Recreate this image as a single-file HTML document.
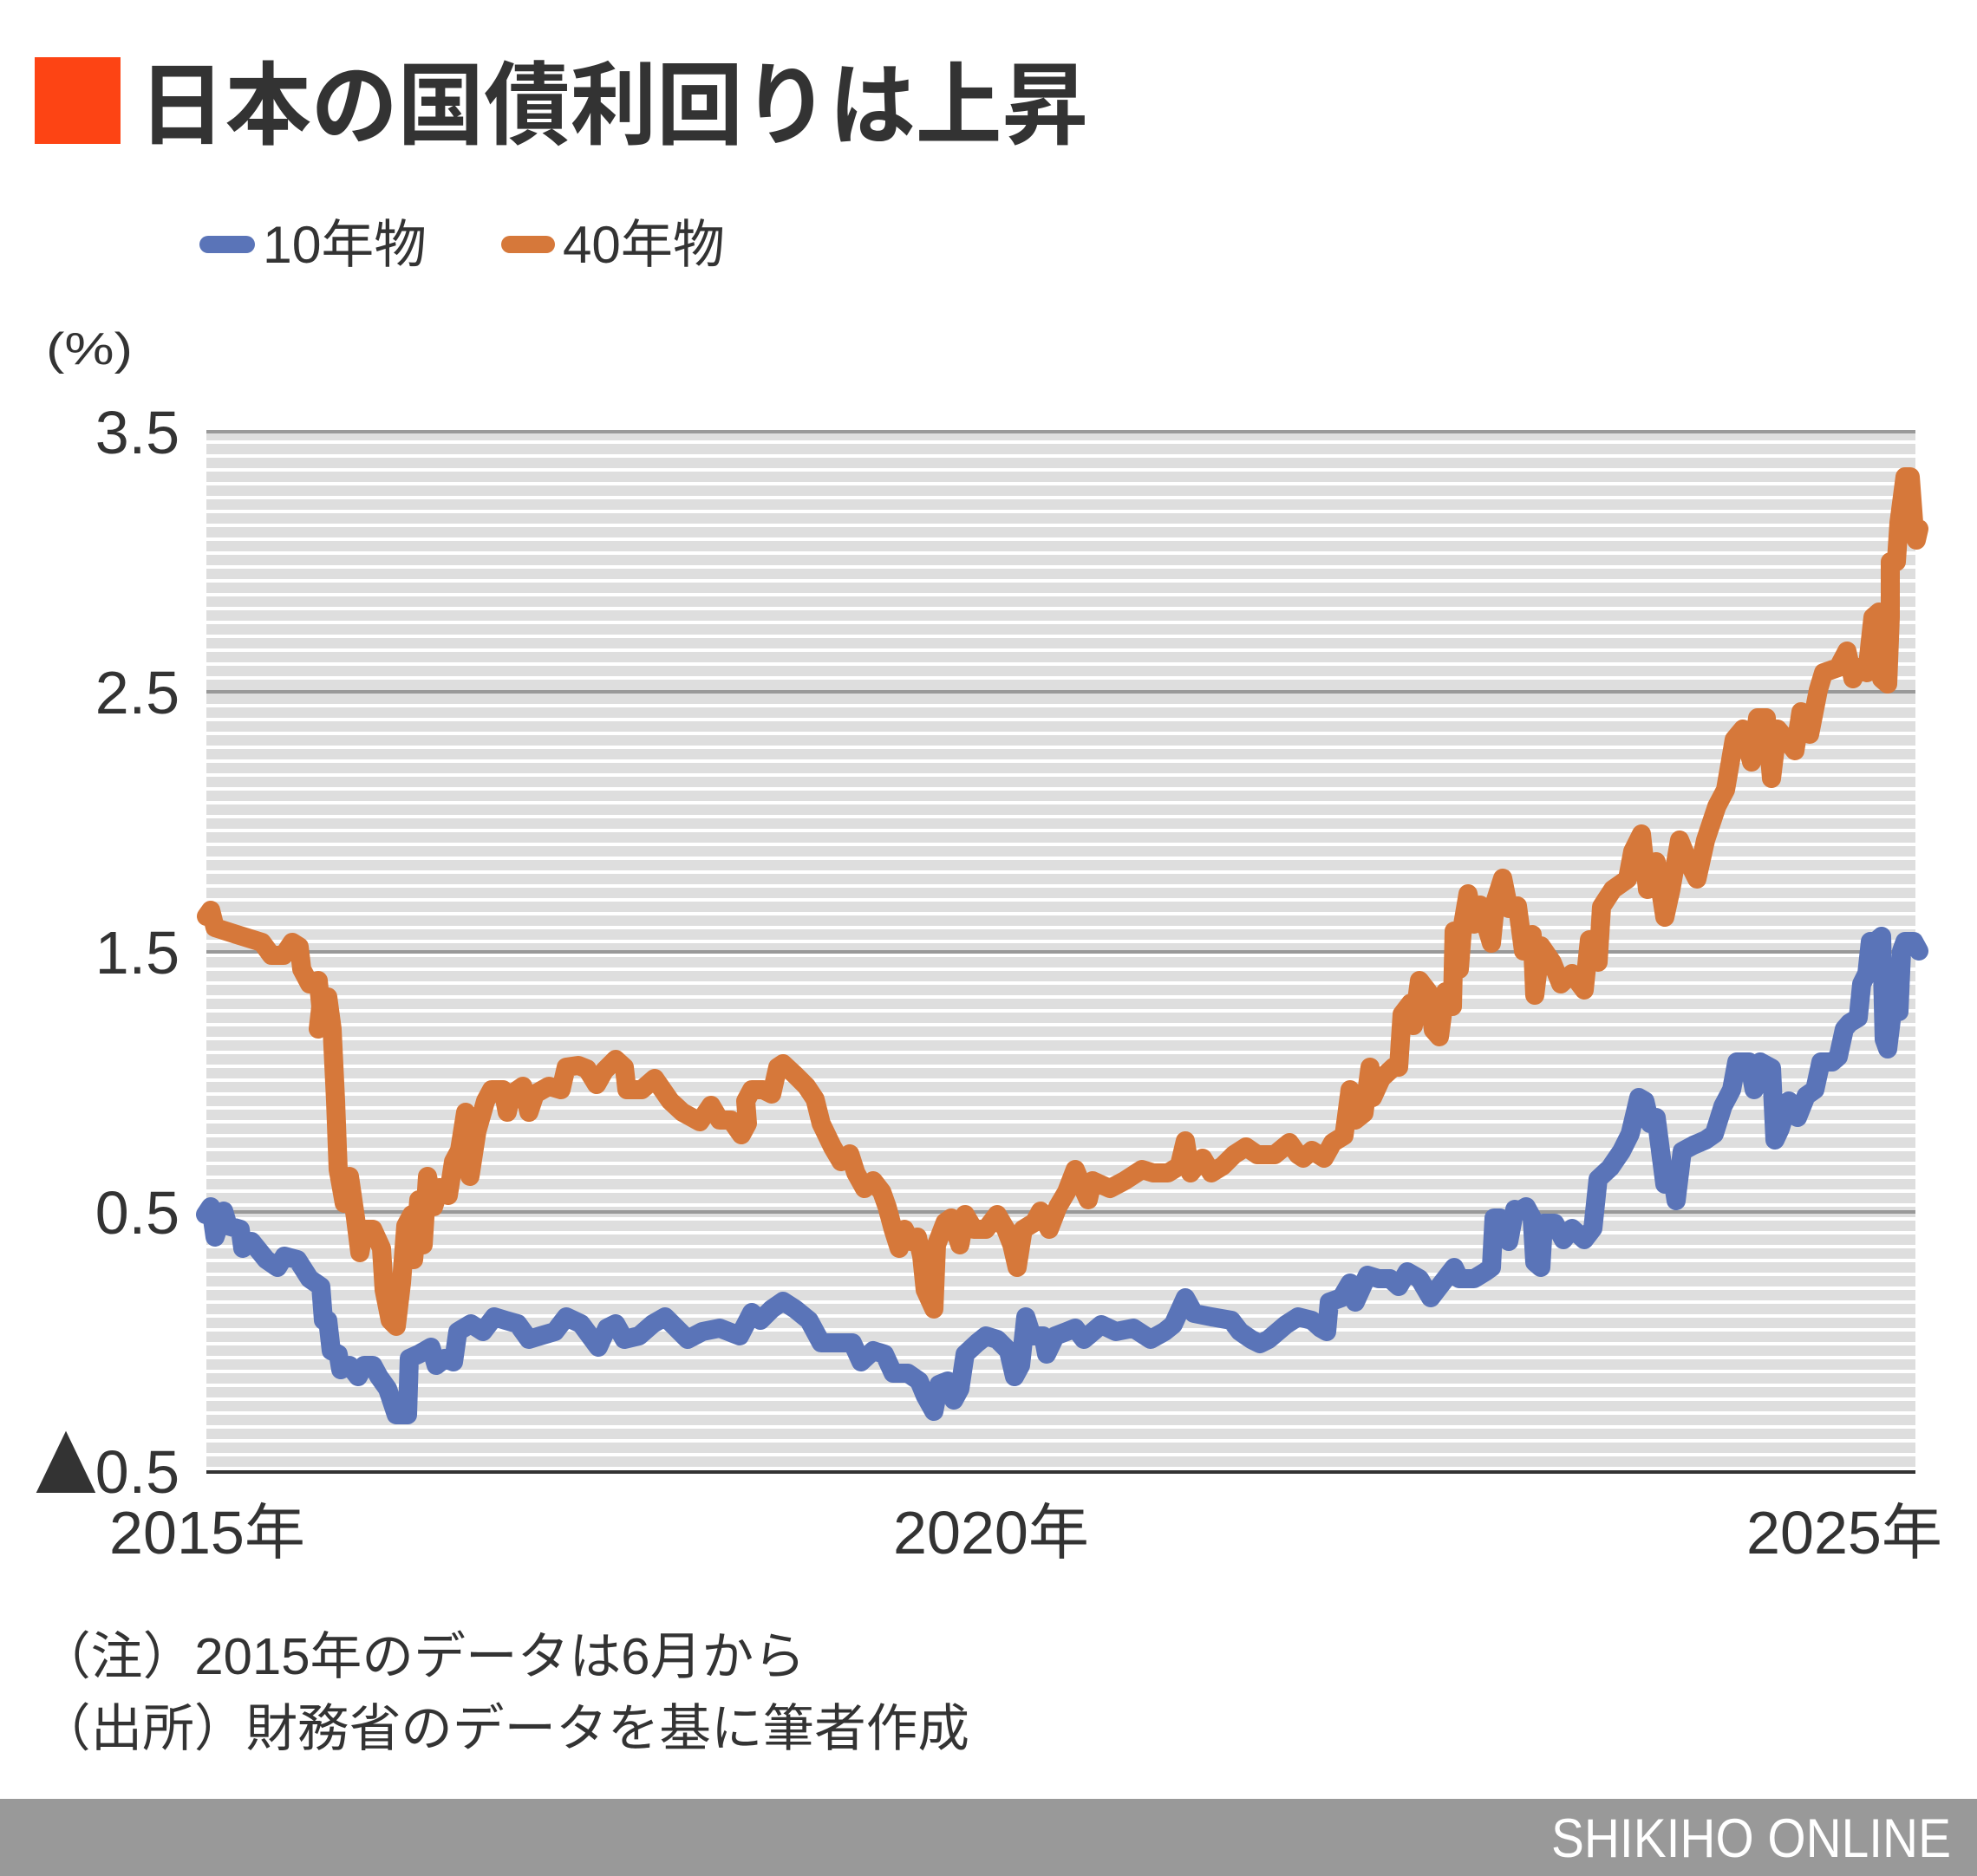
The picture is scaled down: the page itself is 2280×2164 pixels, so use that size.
<!DOCTYPE html>
<html>
<head>
<meta charset="utf-8">
<style>
html,body{margin:0;padding:0;background:#fff;}
svg{display:block;}
text{font-family:"Liberation Sans","Noto Sans CJK JP",sans-serif;}
</style>
</head>
<body>
<svg width="2280" height="2164" viewBox="0 0 2280 2164" xmlns="http://www.w3.org/2000/svg">
<defs>
<pattern id="stripes" x="0" y="508" width="20" height="16" patternUnits="userSpaceOnUse">
<rect x="0" y="0" width="20" height="4" fill="#ffffff"/>
<rect x="0" y="4" width="20" height="12" fill="#dedede"/>
</pattern>
</defs>
<rect x="0" y="0" width="2280" height="2164" fill="#ffffff"/>

<!-- Title -->
<rect x="40" y="66" width="99" height="100" fill="#fd4414"/>
<text x="160" y="158" font-size="104" font-weight="700" fill="#333333" textLength="1095" lengthAdjust="spacingAndGlyphs">日本の国債利回りは上昇</text>

<!-- Legend -->
<rect x="230" y="272" width="64" height="20" rx="10" ry="10" fill="#5a74b8"/>
<text x="303" y="303" font-size="60" fill="#333333" textLength="189" lengthAdjust="spacingAndGlyphs">10年物</text>
<rect x="578" y="272" width="62" height="20" rx="10" ry="10" fill="#d6783a"/>
<text x="649" y="303" font-size="60" fill="#333333" textLength="187" lengthAdjust="spacingAndGlyphs">40年物</text>

<!-- unit -->
<text x="53" y="420" font-size="52" fill="#333333" textLength="100" lengthAdjust="spacingAndGlyphs">(%)</text>

<!-- plot background -->
<rect x="238" y="498" width="1971" height="1198" fill="url(#stripes)"/>
<rect x="238" y="498" width="1971" height="10" fill="#dedede"/>

<!-- major gridlines -->
<g stroke="#999999" stroke-width="4">
<line x1="238" y1="498" x2="2209" y2="498"/>
<line x1="238" y1="798" x2="2209" y2="798"/>
<line x1="238" y1="1098" x2="2209" y2="1098"/>
<line x1="238" y1="1398" x2="2209" y2="1398"/>
</g>
<line x1="238" y1="1698" x2="2209" y2="1698" stroke="#333333" stroke-width="4"/>

<!-- y labels -->
<g font-size="70" fill="#333333" text-anchor="end">
<text x="207" y="523">3.5</text>
<text x="207" y="823">2.5</text>
<text x="207" y="1123">1.5</text>
<text x="207" y="1423">0.5</text>
<text x="207" y="1722">0.5</text>
</g>
<text x="18" y="1722" font-size="122" fill="#333333" textLength="116" lengthAdjust="spacingAndGlyphs">▲</text>

<!-- x labels -->
<g font-size="70" fill="#333333">
<text x="126" y="1792" textLength="226" lengthAdjust="spacingAndGlyphs">2015年</text>
<text x="1030" y="1792" textLength="226" lengthAdjust="spacingAndGlyphs">2020年</text>
<text x="2014" y="1792" textLength="226" lengthAdjust="spacingAndGlyphs">2025年</text>
</g>

<!-- series -->
<polyline fill="none" stroke="#d6783a" stroke-width="22" stroke-linejoin="round" stroke-linecap="round" points="238,1057 243,1050 248,1070 273,1078 302,1087 313,1102 327,1102 337,1087 345,1092 348,1118 357,1135 367,1131 370,1161 367,1187 378,1150 383,1187 387,1270 390,1349 397,1388 403,1357 410,1405 415,1445 420,1418 430,1418 440,1440 443,1488 450,1523 457,1530 463,1480 468,1414 475,1401 477,1453 483,1384 488,1436 493,1357 500,1392 507,1370 517,1379 523,1340 530,1327 537,1283 542,1357 550,1305 560,1270 567,1257 580,1257 585,1283 590,1262 603,1253 610,1283 617,1262 633,1253 647,1257 653,1231 667,1229 677,1233 688,1251 697,1235 710,1222 720,1231 723,1257 740,1257 755,1244 773,1270 787,1283 807,1294 820,1275 830,1292 843,1292 855,1309 862,1296 860,1270 867,1257 880,1257 890,1262 897,1231 903,1227 917,1240 930,1253 940,1268 947,1296 960,1323 970,1340 980,1331 987,1353 997,1371 1007,1362 1017,1375 1023,1392 1030,1418 1037,1440 1043,1418 1050,1432 1058,1427 1063,1449 1067,1488 1077,1510 1080,1436 1090,1410 1097,1405 1107,1436 1113,1401 1123,1418 1137,1418 1150,1401 1160,1418 1167,1436 1173,1462 1180,1418 1193,1410 1200,1397 1210,1418 1220,1392 1230,1375 1240,1349 1247,1366 1255,1384 1260,1362 1280,1371 1297,1362 1317,1349 1330,1353 1347,1353 1360,1345 1367,1316 1373,1353 1387,1336 1397,1353 1410,1345 1423,1332 1437,1323 1450,1332 1470,1332 1487,1318 1497,1332 1503,1336 1513,1327 1527,1336 1537,1318 1550,1310 1557,1257 1563,1292 1573,1284 1580,1231 1583,1266 1593,1244 1607,1231 1613,1231 1617,1170 1627,1157 1630,1183 1637,1131 1647,1144 1653,1188 1660,1196 1667,1144 1675,1161 1677,1074 1683,1118 1687,1066 1693,1031 1700,1066 1707,1044 1720,1088 1725,1038 1733,1013 1740,1048 1750,1045 1757,1097 1767,1078 1770,1148 1777,1091 1790,1110 1800,1135 1813,1123 1827,1142 1833,1084 1843,1110 1847,1046 1860,1026 1877,1014 1883,982 1893,962 1900,1026 1910,994 1920,1058 1927,1026 1937,969 1947,994 1957,1014 1967,969 1980,930 1990,911 2000,853 2010,841 2020,879 2027,828 2037,828 2043,898 2050,841 2060,853 2070,866 2077,821 2087,847 2097,796 2103,776 2120,770 2130,751 2137,783 2143,770 2153,776 2160,712 2167,706 2170,783 2177,789 2180,712 2180,648 2187,648 2190,603 2197,550 2203,550 2207,603 2210,623 2213,610"/>
<polyline fill="none" stroke="#5a74b8" stroke-width="22" stroke-linejoin="round" stroke-linecap="round" points="237,1401 243,1392 248,1427 258,1397 263,1414 277,1418 280,1440 290,1432 307,1453 320,1462 328,1449 343,1453 357,1475 370,1484 373,1523 378,1523 382,1558 390,1562 393,1580 403,1575 413,1588 420,1575 430,1575 437,1588 447,1602 457,1632 470,1632 472,1567 483,1562 497,1554 503,1575 513,1567 523,1571 528,1536 543,1527 557,1536 570,1519 583,1523 597,1527 610,1545 623,1541 640,1536 653,1519 670,1527 690,1554 700,1532 710,1527 720,1545 737,1541 753,1527 767,1519 780,1532 793,1545 810,1536 830,1532 853,1541 867,1514 877,1523 890,1510 903,1501 917,1510 933,1523 947,1549 963,1549 983,1549 993,1571 1007,1558 1020,1562 1030,1584 1047,1584 1060,1593 1067,1610 1077,1628 1083,1597 1093,1593 1100,1615 1107,1602 1113,1562 1127,1549 1137,1541 1150,1545 1163,1558 1170,1588 1177,1575 1183,1519 1190,1541 1203,1541 1207,1562 1217,1541 1230,1536 1240,1532 1250,1545 1270,1528 1287,1536 1307,1532 1327,1545 1343,1536 1353,1528 1367,1497 1377,1515 1397,1519 1420,1523 1430,1536 1443,1545 1453,1550 1463,1545 1483,1528 1497,1519 1513,1523 1523,1532 1530,1536 1533,1502 1547,1497 1557,1480 1563,1502 1577,1471 1590,1475 1603,1475 1613,1484 1623,1467 1637,1475 1650,1497 1660,1484 1677,1462 1683,1475 1700,1475 1713,1467 1720,1462 1723,1405 1730,1405 1740,1432 1747,1395 1750,1398 1760,1392 1767,1405 1770,1456 1777,1462 1780,1411 1793,1411 1803,1430 1813,1417 1827,1430 1837,1417 1843,1360 1857,1347 1870,1328 1880,1308 1890,1266 1897,1270 1903,1296 1910,1289 1920,1366 1930,1366 1933,1385 1940,1328 1953,1321 1967,1315 1977,1308 1987,1276 1997,1257 2003,1225 2017,1225 2023,1257 2030,1225 2043,1232 2047,1315 2053,1302 2063,1270 2073,1289 2083,1264 2093,1257 2100,1225 2113,1225 2120,1219 2127,1187 2133,1180 2143,1174 2147,1135 2153,1123 2157,1086 2163,1086 2170,1080 2173,1199 2177,1210 2183,1161 2190,1167 2193,1097 2197,1086 2207,1086 2213,1097"/>

<!-- notes -->
<g font-size="59" fill="#333333">
<text x="45" y="1931" textLength="884" lengthAdjust="spacingAndGlyphs">（注）2015年のデータは6月から</text>
<text x="45" y="2014" textLength="1073" lengthAdjust="spacingAndGlyphs">（出所）財務省のデータを基に筆者作成</text>
</g>

<!-- footer -->
<rect x="0" y="2075" width="2280" height="89" fill="#999999"/>
<text x="1789" y="2142" font-size="63" fill="#ffffff" textLength="461" lengthAdjust="spacingAndGlyphs">SHIKIHO ONLINE</text>
</svg>
</body>
</html>
